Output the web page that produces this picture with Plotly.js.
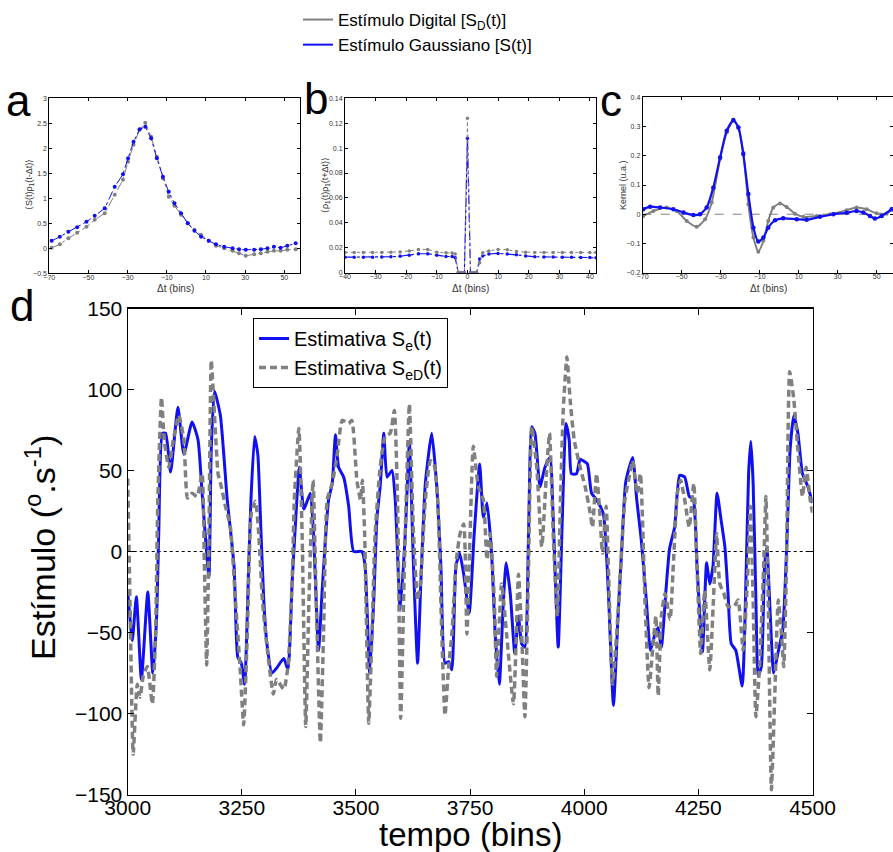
<!DOCTYPE html>
<html>
<head>
<meta charset="utf-8">
<script src="https://cdn.plot.ly/plotly-3.0.1.min.js"></script>
<style>html,body{margin:0;padding:0;background:#fff;}#chart{width:893px;height:852px;}</style>
</head>
<body>
<div id="chart"></div>
<script>
// ---------- Panel a: <S(t) rho1(t-dt)> ----------
const aLag = [-68.8,-64.6,-60.3,-55.8,-51,-46.8,-41.7,-36.6,-32.4,-29.8,-27,-23.9,-21,-18,-15.1,-12,-9,-6.1,-2.7,0.7,4.1,7.5,11.4,15.1,19.3,23.6,26.9,30.3,34.6,38,41.4,44.7,48.1,51.5,55.8];
const aGauss = [0.15,0.23,0.33,0.42,0.53,0.65,0.8,1.23,1.48,1.8,2.13,2.38,2.43,2.2,1.8,1.43,1.13,0.9,0.7,0.5,0.35,0.23,0.15,0.08,0.03,0.0,-0.02,-0.03,-0.03,-0.02,0.0,0.03,0.01,0.05,0.1];
const aDigital = [0.01,0.08,0.2,0.31,0.43,0.57,0.7,1.07,1.37,1.73,2.07,2.37,2.51,2.23,1.83,1.4,1.03,0.85,0.67,0.5,0.37,0.27,0.15,0.05,0.0,-0.05,-0.1,-0.15,-0.12,-0.1,-0.07,-0.05,-0.05,-0.03,-0.02];

// ---------- Panel b: <rho1(t) rho1(t+dt)> ----------
const bLag = [-40,-37,-34,-31,-28,-25,-22,-19,-16,-13,-10,-7,-5,-4,-3,-2,-1,0,1,2,3,4,5,7,10,13,16,19,22,25,28,31,34,37,40,42];
const bGauss = [0.0125,0.0125,0.0125,0.0125,0.0126,0.0128,0.0132,0.014,0.0152,0.0152,0.014,0.013,0.013,0.012,0.0,0.0,0.0,0.108,0.0,0.0,0.0,0.011,0.0135,0.015,0.0155,0.015,0.0145,0.0135,0.0128,0.0127,0.0126,0.0125,0.0124,0.0123,0.0122,0.0121];
const bDigital = [0.0163,0.0163,0.0163,0.0163,0.0163,0.0164,0.0166,0.0175,0.0187,0.0187,0.0165,0.016,0.0158,0.015,0.0005,0.0,0.0,0.124,0.0,0.0,0.0005,0.008,0.016,0.0175,0.0187,0.0185,0.017,0.0165,0.0163,0.0163,0.0163,0.0163,0.0163,0.0163,0.0163,0.0163];

// ---------- Panel c: Kernel ----------
const cLagGauss = [-69.7,-66.2,-61.1,-54.3,-49.1,-44,-40.6,-37.2,-33.8,-30.3,-26.9,-23.5,-20.9,-18.4,-15.8,-13.2,-10.7,-8.1,-5.6,-2.1,2.1,9,14.1,20.9,27.8,34.6,39.7,43.2,46.6,49.1,52.6,57.7];
const cGauss = [0.017,0.026,0.023,0.017,0.006,-0.003,0.0,0.023,0.091,0.194,0.286,0.322,0.297,0.206,0.069,-0.046,-0.093,-0.08,-0.046,-0.021,-0.014,-0.017,-0.019,-0.009,0.0,0.005,0.011,0.006,-0.006,-0.015,-0.006,0.017];
const cLagDigital = [-69.7,-64.5,-57.7,-52.6,-47.4,-42.3,-38,-34.6,-30.3,-26.9,-23.5,-20.9,-18.4,-15.8,-13.2,-10.7,-8.1,-5.6,-3,0.4,3.8,8.1,12.4,19.2,26.1,34.6,39.7,44.9,50,55.1,57.7];
const cDigital = [-0.006,0.011,0.023,0.011,-0.023,-0.043,-0.017,0.04,0.19,0.28,0.32,0.297,0.21,0.034,-0.08,-0.128,-0.091,-0.023,0.023,0.037,0.025,0.002,-0.009,-0.006,0.0,0.014,0.023,0.017,0.003,0.002,0.017];
const cZeroLag = [-70,58.4];
const cZero = [0,0];

// ---------- Panel d: stimulus estimates ----------
const dBinGauss = [3000,3004,3010,3019,3030,3044,3055,3063,3068,3076,3083,3094,3110,3123,3141,3154,3163,3173,3178,3183,3190,3203,3218,3233,3241,3249,3256,3265,3270,3278,3285,3291,3298,3305,3316,3326,3342,3351,3360,3367,3376,3386,3400,3407,3418,3426,3433,3440,3448,3455,3462,3473,3484,3495,3513,3520,3530,3539,3546,3553,3561,3568,3579,3586,3597,3608,3617,3626,3635,3642,3652,3666,3677,3686,3695,3703,3710,3719,3727,3736,3748,3759,3771,3779,3787,3797,3805,3814,3823,3829,3838,3848,3856,3863,3870,3878,3885,3892,3903,3914,3925,3932,3943,3951,3960,3967,3972,3983,3991,3998,4007,4016,4027,4042,4053,4064,4074,4082,4091,4106,4115,4125,4136,4145,4155,4162,4169,4179,4187,4198,4209,4220,4230,4239,4247,4259,4268,4275,4282,4291,4300,4308,4315,4322,4332,4346,4355,4360,4365,4370,4376,4381,4388,4395,4400,4406,4415,4424,4435,4444,4451,4459,4468,4478,4490,4500];
const dGauss = [-25,-38,-55,-28,-79,-25,-75,-43,11,73,73,49,89,60,80,69,36,-1,-16,63,99,84,32,-9,-65,-69,-82,-9,32,71,60,19,-30,-57,-75,-72,-66,-73,-20,15,52,26,36,11,-61,-24,7,32,42,72,52,46,28,0,0,-9,-75,-30,21,40,73,46,50,32,-36,11,67,-9,-69,-20,42,73,40,-9,-69,-68,-73,-9,-1,-14,-38,11,54,21,30,-1,-51,-82,-30,-7,-26,-63,-40,-57,-59,11,77,73,40,52,58,21,-59,11,79,69,48,48,57,56,54,36,32,23,-26,-95,-40,1,43,58,32,7,-30,-61,-51,-47,-59,-24,2,15,47,46,34,32,-9,-62,-7,-20,-9,36,19,3,-26,-57,-61,-83,-9,48,68,42,-30,-77,-71,-9,3,-30,-75,-63,-48,7,63,84,73,48,40,30];
const dBinDigital = [3000,3005,3012,3021,3027,3034,3043,3054,3061,3066,3074,3080,3090,3100,3112,3123,3131,3141,3152,3163,3168,3173,3178,3183,3190,3198,3205,3214,3225,3236,3246,3254,3262,3271,3280,3287,3295,3306,3319,3326,3342,3351,3360,3365,3375,3382,3390,3397,3406,3413,3422,3429,3437,3448,3459,3470,3484,3491,3502,3510,3514,3519,3528,3535,3542,3553,3564,3575,3584,3591,3598,3606,3612,3617,3626,3635,3641,3652,3663,3671,3679,3688,3695,3703,3710,3720,3728,3736,3743,3750,3757,3768,3779,3787,3794,3803,3808,3819,3830,3845,3856,3863,3870,3878,3885,3896,3907,3918,3924,3932,3941,3948,3954,3962,3969,3978,3991,4002,4013,4018,4027,4034,4040,4048,4055,4062,4071,4080,4089,4100,4106,4116,4123,4133,4142,4150,4157,4162,4169,4177,4188,4195,4204,4211,4220,4230,4240,4247,4255,4264,4275,4283,4290,4297,4306,4315,4328,4337,4348,4357,4364,4370,4376,4384,4393,4398,4403,4410,4417,4425,4432,4437,4443,4450,4459,4468,4478,4486,4495,4500];
const dDigital = [45,-30,-125,-82,-90,-77,-71,-94,-51,32,95,69,52,69,84,69,33,36,34,48,-9,-70,11,118,85,48,40,28,15,-30,-71,-107,-51,24,31,11,-30,-61,-88,-79,-85,-71,-20,32,76,11,-108,-30,44,-30,-118,-51,32,42,60,81,79,81,44,32,44,11,-106,-51,11,52,71,73,87,32,-103,-9,52,91,11,-30,-20,32,56,54,32,-51,-101,-71,-51,-5,11,17,-51,11,65,40,32,-5,11,-30,-77,-20,-51,-94,-14,-51,-102,-9,77,52,3,52,73,11,-40,32,87,120,94,69,52,40,24,15,48,24,-1,28,-30,-82,-51,-9,32,48,56,36,48,-30,-84,-60,-40,-89,-40,-26,-42,-9,36,44,32,15,42,-9,-63,-24,-73,-30,11,-20,-26,-34,-34,-30,-61,-20,28,-30,-102,-71,-9,34,-30,-147,-92,-30,-51,-71,-9,111,94,63,34,52,32,24];
const dZeroBin = [3000,4500];
const dZero = [0,0];

const BLUE = '#1010f0';
const GRAY = '#808080';
const FONT = 'Liberation Sans, Arial, sans-serif';

const traces = [
  // legend-only entries for top legend
  {x:[null], y:[null], type:'scatter', mode:'lines', name:'Estímulo Digital [S<sub>D</sub>(t)]', line:{color:GRAY, width:2}, legend:'legend', showlegend:true, xaxis:'x', yaxis:'y', hoverinfo:'skip'},
  {x:[null], y:[null], type:'scatter', mode:'lines', name:'Estímulo Gaussiano [S(t)]', line:{color:BLUE, width:2}, legend:'legend', showlegend:true, xaxis:'x', yaxis:'y', hoverinfo:'skip'},
  // panel a
  {x:aLag, y:aDigital, type:'scatter', mode:'lines+markers', line:{color:GRAY, width:1, dash:'dashdot'}, marker:{color:GRAY, size:4}, showlegend:false, xaxis:'x', yaxis:'y'},
  {x:aLag, y:aGauss, type:'scatter', mode:'lines+markers', line:{color:BLUE, width:1, dash:'dashdot'}, marker:{color:BLUE, size:4}, showlegend:false, xaxis:'x', yaxis:'y'},
  // panel b
  {x:bLag, y:bGauss, type:'scatter', mode:'lines+markers', line:{color:BLUE, width:1.2, dash:'dashdot'}, marker:{color:BLUE, size:3.5}, showlegend:false, xaxis:'x2', yaxis:'y2'},
  {x:bLag, y:bDigital, type:'scatter', mode:'lines+markers', line:{color:GRAY, width:1, dash:'dot'}, marker:{color:GRAY, size:3.5}, showlegend:false, xaxis:'x2', yaxis:'y2'},
  // panel c
  {x:cZeroLag, y:cZero, type:'scatter', mode:'lines', line:{color:GRAY, width:1, dash:'dash'}, showlegend:false, xaxis:'x3', yaxis:'y3'},
  {x:cLagDigital, y:cDigital, type:'scatter', mode:'lines+markers', line:{color:GRAY, width:2, shape:'spline', smoothing:0.6}, marker:{color:GRAY, size:4}, showlegend:false, xaxis:'x3', yaxis:'y3'},
  {x:cLagGauss, y:cGauss, type:'scatter', mode:'lines+markers', line:{color:BLUE, width:2.2, shape:'spline', smoothing:0.6}, marker:{color:BLUE, size:4.5}, showlegend:false, xaxis:'x3', yaxis:'y3'},
  // panel d
  {x:dZeroBin, y:dZero, type:'scatter', mode:'lines', line:{color:'#000', width:1, dash:'dot'}, showlegend:false, xaxis:'x4', yaxis:'y4'},
  {x:dBinGauss, y:dGauss, type:'scatter', mode:'lines', name:'Estimativa S<sub>e</sub>(t)', line:{color:BLUE, width:3, shape:'spline', smoothing:0.5}, legend:'legend2', showlegend:true, xaxis:'x4', yaxis:'y4'},
  {x:dBinDigital, y:dDigital, type:'scatter', mode:'lines', name:'Estimativa S<sub>eD</sub>(t)', line:{color:GRAY, width:3.5, dash:'7px,4px', shape:'spline', smoothing:0.5}, legend:'legend2', showlegend:true, xaxis:'x4', yaxis:'y4'}
];

function smallAxis(extra) {
  return Object.assign({
    showline:true, linecolor:'#000', linewidth:1, mirror:'ticks',
    ticks:'inside', ticklen:3, tickcolor:'#000',
    showgrid:false, zeroline:false,
    tickfont:{family:FONT, size:7, color:'#333'}
  }, extra);
}
const W = 893, H = 852;
const px = v => v / W;
const py = v => 1 - v / H;

function ann(text, x, y, size, extra) {
  return Object.assign({text:text, x:px(x), y:py(y), xref:'paper', yref:'paper', xanchor:'center', yanchor:'middle',
    showarrow:false, font:{family:FONT, size:size, color:'#000'}}, extra || {});
}

const layout = {
  width:W, height:H, autosize:false,
  margin:{l:0, r:0, t:0, b:0},
  paper_bgcolor:'#fff', plot_bgcolor:'#fff',
  font:{family:FONT, color:'#000'},
  xaxis: smallAxis({domain:[px(49.3), px(300)], range:[-70,58], tickvals:[-70,-50,-30,-10,10,30,50], anchor:'y', ticklabelstandoff:-3}),
  yaxis: smallAxis({domain:[py(273.3), py(98.3)], range:[-0.5,3], dtick:0.5, anchor:'x'}),
  xaxis2: smallAxis({domain:[px(345), px(596)], range:[-40,42], tickvals:[-40,-30,-20,-10,0,10,20,30,40], anchor:'y2', ticklabelstandoff:-3}),
  yaxis2: smallAxis({domain:[py(272.7), py(98.3)], range:[0,0.14], dtick:0.02, anchor:'x2'}),
  xaxis3: smallAxis({domain:[px(642.7), 1], range:[-70,58.4], tickvals:[-70,-50,-30,-10,10,30,50], anchor:'y3', ticklabelstandoff:-3}),
  yaxis3: smallAxis({domain:[py(272.7), py(97.3)], range:[-0.2,0.4], dtick:0.1, anchor:'x3'}),
  xaxis4: {domain:[px(127.7), px(812.5)], range:[3000,4500], dtick:250, anchor:'y4',
    showline:true, linecolor:'#000', linewidth:1.2, mirror:'ticks', ticks:'inside', ticklen:6, tickcolor:'#000',
    showgrid:false, zeroline:false, ticklabelstandoff:-6, tickfont:{family:FONT, size:21, color:'#000'}},
  yaxis4: {domain:[py(794.5), py(308.5)], range:[-150,150], dtick:50, anchor:'x4',
    showline:true, linecolor:'#000', linewidth:1.2, mirror:'ticks', ticks:'inside', ticklen:6, tickcolor:'#000',
    showgrid:false, zeroline:false, tickfont:{family:FONT, size:21, color:'#000'}},
  legend: {x:px(298), y:py(2), xanchor:'left', yanchor:'top', bgcolor:'rgba(0,0,0,0)', borderwidth:0,
    font:{family:FONT, size:17, color:'#000'}, tracegroupgap:0, itemwidth:30},
  legend2: {x:px(253), y:py(318), xanchor:'left', yanchor:'top', bgcolor:'#fff', bordercolor:'#000', borderwidth:1,
    font:{family:FONT, size:20, color:'#000'}, tracegroupgap:0, itemwidth:30},
  annotations: [
    ann('a', 4, 100, 44, {xanchor:'left'}),
    ann('b', 302, 98, 44, {xanchor:'left'}),
    ann('c', 598, 100, 44, {xanchor:'left'}),
    ann('d', 8, 306, 44, {xanchor:'left'}),
    ann('⟨S(t)ρ<sub>1</sub>(t-Δt)⟩', 30, 185, 9, {textangle:-90, font:{family:FONT, size:9, color:'#333'}}),
    ann('⟨ρ<sub>1</sub>(t)ρ<sub>1</sub>(t+Δt)⟩', 326, 185, 9, {textangle:-90, font:{family:FONT, size:9, color:'#333'}}),
    ann('Kernel (u.a.)', 623, 185, 9, {textangle:-90, font:{family:FONT, size:9, color:'#333'}}),
    ann('Δt (bins)', 175, 289, 10, {font:{family:FONT, size:10, color:'#333'}}),
    ann('Δt (bins)', 470, 289, 10, {font:{family:FONT, size:10, color:'#333'}}),
    ann('Δt (bins)', 768, 289, 10, {font:{family:FONT, size:10, color:'#333'}}),
    ann('Estímulo (<sup>o</sup>.s<sup>-1</sup>)', 40, 548, 34, {textangle:-90}),
    ann('tempo (bins)', 470, 834, 33)
  ]
};

Plotly.newPlot('chart', traces, layout, {displayModeBar:false, staticPlot:true});
</script>
</body>
</html>
